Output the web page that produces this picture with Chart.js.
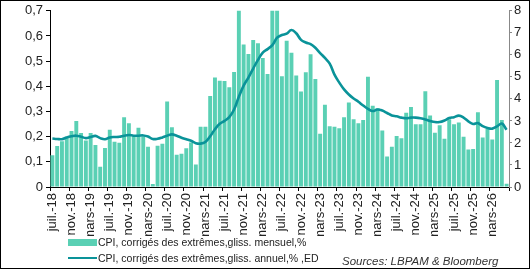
<!DOCTYPE html>
<html>
<head>
<meta charset="utf-8">
<script src="https://cdn.jsdelivr.net/npm/chart.js@4"></script>
<style>
  html, body { margin: 0; padding: 0; background: #fff; }
  #wrap { position: relative; width: 530px; height: 269px; font-family: "Liberation Sans", Arial, sans-serif; color: #222; }
  #chartBox { position: absolute; left: 0; top: 0; width: 530px; height: 236px; }
  #frame { position: absolute; left: 0; top: 0; width: 530px; height: 269px; border: 1px solid #000; box-sizing: border-box; pointer-events: none; }
  .legend-row { position: absolute; left: 68px; height: 14px; display: flex; align-items: center; font-size: 10.5px; white-space: nowrap; }
  .legend-row .sym { width: 29px; margin-right: 1px; }
  #source { position: absolute; left: 342px; top: 255px; font-size: 11.5px; font-style: italic; color: #333; white-space: nowrap; }
</style>
</head>
<body>
<div id="wrap">
  <div id="chartBox"><canvas id="cpiChart"></canvas></div>
  <div class="legend-row" style="top: 235px;"><span class="sym" style="height: 7px; background: #5ad0b4;"></span><span>CPI, corrigés des extrêmes,gliss. mensuel,%</span></div>
  <div class="legend-row" style="top: 251px;"><span class="sym" style="height: 2px; background: #0a9399;"></span><span>CPI, corrigés des extrêmes,gliss. annuel,% ,ED</span></div>
  <div id="source">Sources: LBPAM &amp; Bloomberg</div>
  <div id="frame"></div>
</div>
<script>
  // Mois, de juil.-18 à juin-26
  const monthLabels = [
    "juil.-18", "août-18", "sept.-18", "oct.-18", "nov.-18", "déc.-18",
    "janv.-19", "févr.-19", "mars-19", "avr.-19", "mai-19", "juin-19", "juil.-19", "août-19", "sept.-19", "oct.-19", "nov.-19", "déc.-19",
    "janv.-20", "févr.-20", "mars-20", "avr.-20", "mai-20", "juin-20", "juil.-20", "août-20", "sept.-20", "oct.-20", "nov.-20", "déc.-20",
    "janv.-21", "févr.-21", "mars-21", "avr.-21", "mai-21", "juin-21", "juil.-21", "août-21", "sept.-21", "oct.-21", "nov.-21", "déc.-21",
    "janv.-22", "févr.-22", "mars-22", "avr.-22", "mai-22", "juin-22", "juil.-22", "août-22", "sept.-22", "oct.-22", "nov.-22", "déc.-22",
    "janv.-23", "févr.-23", "mars-23", "avr.-23", "mai-23", "juin-23", "juil.-23", "août-23", "sept.-23", "oct.-23", "nov.-23", "déc.-23",
    "janv.-24", "févr.-24", "mars-24", "avr.-24", "mai-24", "juin-24", "juil.-24", "août-24", "sept.-24", "oct.-24", "nov.-24", "déc.-24",
    "janv.-25", "févr.-25", "mars-25", "avr.-25", "mai-25", "juin-25", "juil.-25", "août-25", "sept.-25", "oct.-25", "nov.-25", "déc.-25",
    "janv.-26", "févr.-26", "mars-26", "avr.-26", "mai-26", "juin-26"
  ];

  // glissement mensuel, % (axe gauche)
  const monthlyChange = [
    0.126, 0.163, 0.182, 0.200, 0.222, 0.262,
    0.215, 0.185, 0.215, 0.167, 0.080, 0.155, 0.227, 0.180, 0.176, 0.277, 0.253, 0.205,
    0.235, 0.200, 0.160, 0.012, 0.164, 0.172, 0.340, 0.237, 0.128, 0.132, 0.154, 0.177,
    0.089, 0.239, 0.239, 0.362, 0.435, 0.422, 0.421, 0.396, 0.457, 0.750, 0.566, 0.528,
    0.584, 0.571, 0.512, 0.449, 0.750, 0.750, 0.440, 0.581, 0.533, 0.443, 0.379, 0.456,
    0.527, 0.429, 0.212, 0.327, 0.241, 0.239, 0.233, 0.277, 0.336, 0.269, 0.253, 0.266,
    0.438, 0.323, 0.313, 0.224, 0.121, 0.160, 0.203, 0.194, 0.295, 0.318, 0.249, 0.249,
    0.380, 0.284, 0.216, 0.245, 0.192, 0.269, 0.249, 0.256, 0.200, 0.149, 0.151, 0.297,
    0.197, 0.230, 0.189, 0.425, 0.266, 0.013
  ];

  // glissement annuel, % (axe droit)
  const annualChange = [
    2.20, 2.18, 2.17, 2.25, 2.30, 2.33,
    2.28, 2.22, 2.27, 2.32, 2.22, 2.17, 2.25, 2.27, 2.28, 2.33, 2.36, 2.33,
    2.33, 2.34, 2.29, 2.18, 2.19, 2.25, 2.33, 2.39, 2.33, 2.24, 2.17, 2.10,
    1.99, 1.97, 2.04, 2.30, 2.62, 2.87, 3.00, 3.17, 3.52, 4.10, 4.60, 4.97,
    5.38, 5.77, 6.10, 6.26, 6.44, 6.78, 6.90, 6.96, 7.13, 6.98, 6.68, 6.56,
    6.49, 6.32, 6.08, 5.86, 5.60, 5.10, 4.74, 4.43, 4.20, 4.02, 3.87, 3.70,
    3.55, 3.45, 3.52, 3.47, 3.36, 3.25, 3.21, 3.15, 3.12, 3.15, 3.15, 3.12,
    3.07, 3.00, 2.95, 2.95, 3.02, 3.13, 3.17, 3.24, 3.15, 2.98, 2.86, 2.90,
    2.76, 2.68, 2.65, 2.75, 2.88, 2.60
  ];

  const leftTicks = { min: 0, max: 0.7, step: 0.1 };
  const rightTicks = { min: 0, max: 8, step: 1 };

  const tickFont = { family: "'Liberation Sans', Arial, sans-serif", size: 13 };

  new Chart(document.getElementById("cpiChart"), {
    data: {
      labels: monthLabels,
      datasets: [
        {
          type: "line",
          label: "CPI, corrigés des extrêmes,gliss. annuel,% ,ED",
          data: annualChange,
          yAxisID: "y2",
          borderColor: "#0a9399",
          borderWidth: 2.6,
          tension: 0.4,
          pointRadius: 0,
          order: 0
        },
        {
          type: "bar",
          label: "CPI, corrigés des extrêmes,gliss. mensuel,%",
          data: monthlyChange,
          yAxisID: "y",
          backgroundColor: "#5ad0b4",
          categoryPercentage: 1,
          barPercentage: 0.82,
          order: 1
        }
      ]
    },
    options: {
      responsive: true,
      maintainAspectRatio: false,
      animation: false,
      layout: { padding: { top: 8, left: 0, right: 0, bottom: 0 } },
      plugins: {
        legend: { display: false },
        tooltip: { enabled: false }
      },
      scales: {
        x: {
          offset: true,
          afterFit: function (scale) { scale.height = 49; },
          grid: {
            offset: true,
            drawOnChartArea: false,
            tickLength: 4,
            color: function (ctx) {
              if (!ctx.tick) return "#000";
              return ctx.index % 4 === 0 ? "#000" : "rgba(0,0,0,0)";
            }
          },
          border: { color: "#000", width: 1 },
          ticks: {
            autoSkip: false,
            maxRotation: 90,
            minRotation: 90,
            padding: 2,
            color: "#222",
            font: tickFont,
            callback: function (value, index) {
              return index % 4 === 0 ? monthLabels[index] : "";
            }
          }
        },
        y: {
          position: "left",
          min: leftTicks.min,
          max: leftTicks.max,
          afterFit: function (scale) { scale.width = 50; },
          grid: { drawOnChartArea: false, tickLength: 4, color: "#000" },
          border: { color: "#000", width: 1 },
          ticks: {
            stepSize: leftTicks.step,
            padding: 3,
            color: "#222",
            font: tickFont,
            callback: function (value) {
              return value === 0 ? "0" : value.toFixed(1).replace(".", ",");
            }
          }
        },
        y2: {
          position: "right",
          min: rightTicks.min,
          max: rightTicks.max,
          afterFit: function (scale) { scale.width = 21; },
          grid: { drawOnChartArea: false, tickLength: 3, color: "#888" },
          border: { color: "#888", width: 1 },
          ticks: {
            stepSize: rightTicks.step,
            padding: 2,
            color: "#222",
            font: tickFont
          }
        }
      }
    }
  });
</script>
</body>
</html>
